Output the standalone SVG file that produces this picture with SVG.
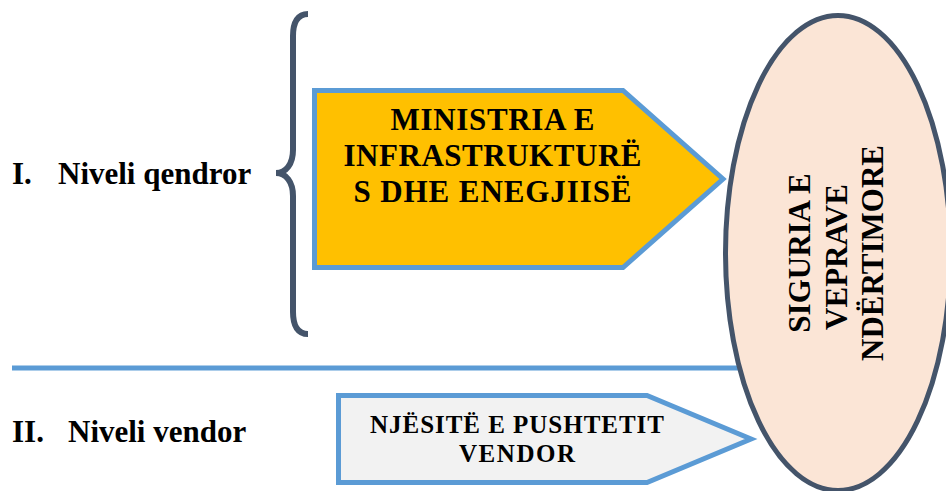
<svg xmlns="http://www.w3.org/2000/svg" width="946" height="491" viewBox="0 0 946 491">
<style>
text{font-family:'Liberation Serif','Times New Roman',serif;font-weight:bold;fill:#000}
.lbl{font-size:31px}
.box{text-anchor:middle}
.arrow{stroke:#5B9BD5;stroke-width:5;stroke-linejoin:miter}
</style>
<rect x="0" y="0" width="946" height="491" fill="#FFFFFF"/>
<g id="connectors">
<line x1="12" y1="368" x2="742" y2="368" stroke="#5B9BD5" stroke-width="5"/>
<path id="brace" d="M308,14 C298,14 293,22 293,36 L293,150 C293,164 286,173 276,173 C286,173 293,182 293,196 L293,312 C293,326 298,334 308,334" fill="none" stroke="#44546A" stroke-width="6"/>
</g>
<g id="label-central">
<text class="lbl" x="12" y="184">I.</text>
<text class="lbl" x="58" y="184">Niveli qendror</text>
</g>
<g id="label-local">
<text class="lbl" x="12" y="442">II.</text>
<text class="lbl" x="68" y="442">Niveli vendor</text>
</g>
<g id="node-ministry">
<polygon class="arrow" points="314.5,90.5 623,90.5 723,179 623,267.5 314.5,267.5" fill="#FFC000"/>
<text class="box" font-size="31" x="492.5" y="130" textLength="204">MINISTRIA E</text>
<text class="box" font-size="31" x="492.5" y="166" textLength="298">INFRASTRUKTURË</text>
<text class="box" font-size="31" x="492.5" y="202" textLength="278">S DHE ENEGJIISË</text>
</g>
<g id="node-local">
<polygon class="arrow" points="338.5,395.5 647,395.5 751,439 647,482.5 338.5,482.5" fill="#F2F2F2"/>
<text class="box" font-size="25" x="517" y="433" textLength="294">NJËSITË E PUSHTETIT</text>
<text class="box" font-size="25" x="517" y="462" textLength="116">VENDOR</text>
</g>
<g id="node-safety">
<ellipse cx="838" cy="253" rx="112.5" ry="237.5" fill="#FBE5D6" stroke="#44546A" stroke-width="5"/>
<text class="box" font-size="31" transform="translate(810,253) rotate(-90)">SIGURIA E</text>
<text class="box" font-size="31" transform="translate(847,257) rotate(-90)">VEPRAVE</text>
<text class="box" font-size="31" transform="translate(883,253) rotate(-90)">NDËRTIMORE</text>
</g>
</svg>
